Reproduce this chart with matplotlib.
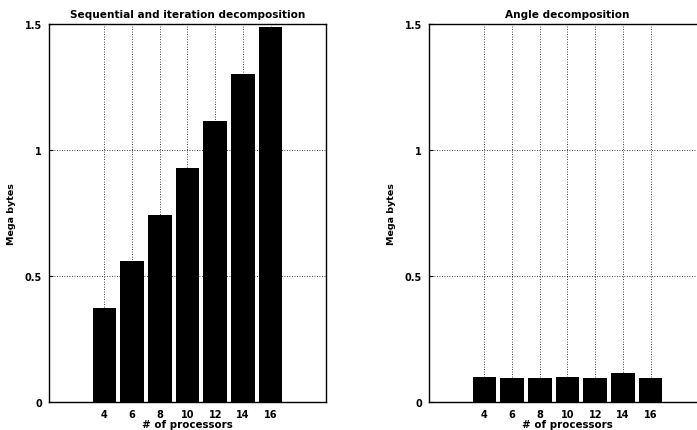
import matplotlib
matplotlib.use("Agg")
import matplotlib.pyplot as plt

processors = [4, 6, 8, 10, 12, 14, 16]
seq_iter_mb = [0.372, 0.558, 0.742, 0.929, 1.114, 1.300, 1.487]
angle_mb = [0.098, 0.095, 0.095, 0.100, 0.095, 0.114, 0.095]
titles = ["Sequential and iteration decomposition", "Angle decomposition"]
yticks = [0, 0.5, 1, 1.5]
ytick_labels = ["0", "0.5", "1", "1.5"]

plt.rcParams['font.family'] = ['DejaVu Sans']
plt.rcParams['font.weight'] = 'bold'

fig = plt.figure(figsize=(6.97, 4.31), dpi=100)
ax1 = fig.add_axes([0.0703, 0.065, 0.3974, 0.877])
ax2 = fig.add_axes([0.6155, 0.065, 0.3974, 0.877])

for ax, vals, title in zip([ax1, ax2], [seq_iter_mb, angle_mb], titles):
    ax.bar(processors, vals, width=1.7, color='black', zorder=2)
    ax.set_xlim(0, 20)
    ax.set_ylim(0, 1.5)
    ax.set_xticks(processors)
    ax.set_xticklabels([str(p) for p in processors], fontsize=7, fontweight='bold')
    ax.set_yticks(yticks)
    ax.set_yticklabels(ytick_labels, fontsize=7, fontweight='bold')
    ax.tick_params(direction='in', length=3, width=0.8, pad=5)
    ax.grid(True, linestyle=(0, (1, 2)), color='black', linewidth=0.6, zorder=0)
    ax.set_axisbelow(True)
    for s in ax.spines.values():
        s.set_linewidth(1.0)
        s.set_color('black')
    ax.set_title(title, fontsize=7.6, fontweight='bold', pad=5)
    ax.set_xlabel("# of processors", fontsize=7.4, fontweight='bold', labelpad=0)
    ax.set_ylabel("Mega bytes", fontsize=6.8, fontweight='bold', labelpad=6)

fig.savefig("out.png", dpi=100)
